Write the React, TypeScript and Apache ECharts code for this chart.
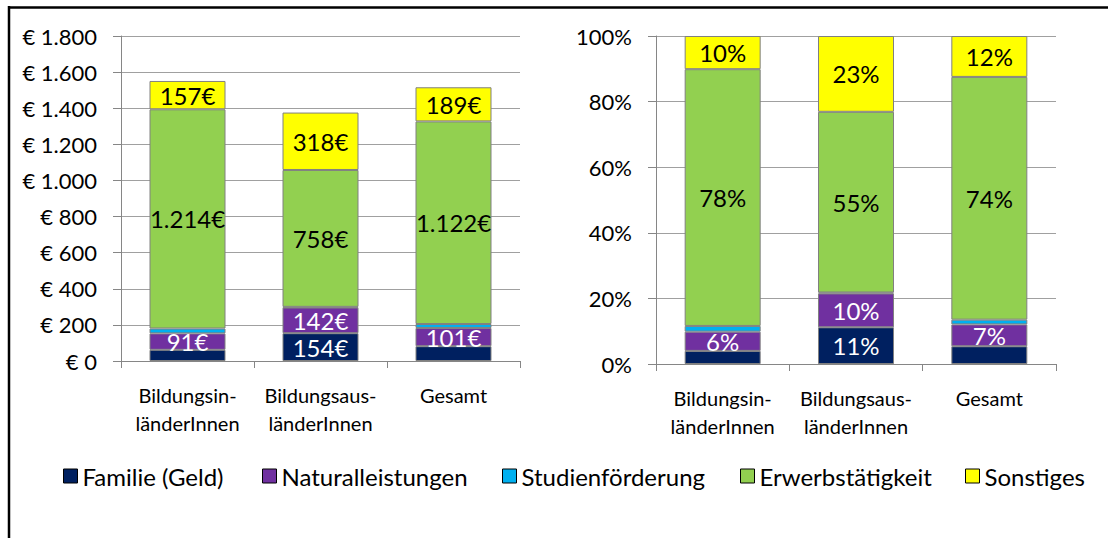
import React, { useEffect, useRef } from "react";
import * as echarts from "echarts";

const categories = ["Bildungsin-\nländerInnen", "Bildungsaus-\nländerInnen", "Gesamt"];
const seriesNames = ["Familie (Geld)", "Naturalleistungen", "Studienförderung", "Erwerbstätigkeit", "Sonstiges"];
const familie = [62, 154, 82];
const natural = [91, 142, 101];
const studien = [27, 4, 22];
const erwerb = [1214, 758, 1122];
const sonstiges = [157, 318, 189];
const colors = ["#002060", "#7030A0", "#00B0F0", "#92D050", "#FFFF00"];
const leftTicks = [0, 1800, 200];
const rightTicks = [0, 100, 20];

const FONT = "Lato";

function fmt(v: number): string {
  return String(Math.round(v)).replace(/\B(?=(\d{3})+(?!\d))/g, ".");
}

export default function App() {
  const ref = useRef<HTMLDivElement>(null);
  useEffect(() => {
    if (!ref.current) return;
    const chart = echarts.init(ref.current, undefined, { renderer: "svg" });
    const values = [familie, natural, studien, erwerb, sonstiges];
    const totals = categories.map((_, i) => values.reduce((s, arr) => s + arr[i], 0));
    const pcts = values.map((arr) => arr.map((v, i) => (v / totals[i]) * 100));
    const labelColors = ["#fff", "#fff", "#000", "#000", "#000"];
    const minShowAbs = [100, 0, 1e9, 0, 0];
    const minShowPct = [8, 0, 1e9, 0, 0];

    const series: any[] = [];
    values.forEach((arr, k) => {
      series.push({
        name: seriesNames[k],
        type: "bar",
        stack: "abs",
        xAxisIndex: 0,
        yAxisIndex: 0,
        barWidth: 76,
        data: arr,
        itemStyle: { color: colors[k], borderColor: "#808080", borderWidth: 1 },
        label: {
          show: true,
          position: "inside",
          color: labelColors[k],
          fontFamily: FONT,
          fontSize: 24,
          formatter: (p: any) => (p.value >= minShowAbs[k] ? fmt(p.value) + "€" : ""),
        },
      });
    });
    pcts.forEach((arr, k) => {
      series.push({
        name: seriesNames[k],
        type: "bar",
        stack: "pct",
        xAxisIndex: 1,
        yAxisIndex: 1,
        barWidth: 76,
        data: arr,
        itemStyle: { color: colors[k], borderColor: "#808080", borderWidth: 1 },
        label: {
          show: true,
          position: "inside",
          color: labelColors[k],
          fontFamily: FONT,
          fontSize: 24,
          formatter: (p: any) => (p.value >= minShowPct[k] ? Math.round(p.value) + "%" : ""),
        },
      });
    });

    const xAxisBase = (gridIndex: number) => ({
      type: "category",
      gridIndex,
      data: categories,
      axisLine: { lineStyle: { color: "#868686", width: 1 } },
      axisTick: { show: true, length: 7, alignWithLabel: false, lineStyle: { color: "#868686" } },
      axisLabel: { color: "#000", fontFamily: FONT, fontSize: 20, lineHeight: 28, margin: 20, interval: 0 },
      splitLine: { show: false },
    });
    const yAxisBase = (gridIndex: number, ticks: number[], formatter: (v: number) => string) => ({
      type: "value",
      gridIndex,
      min: ticks[0],
      max: ticks[1],
      interval: ticks[2],
      axisLine: { show: true, lineStyle: { color: "#868686", width: 1 } },
      axisTick: { show: true, length: 8, lineStyle: { color: "#868686" } },
      axisLabel: { color: "#000", fontFamily: FONT, fontSize: 22, margin: 24, formatter },
      splitLine: { show: true, lineStyle: { color: "#a0a0a0", width: 1 } },
    });

    const markerLefts = [58, 257, 497, 735, 960];
    const legends = seriesNames.map((n, k) => ({
      data: [n],
      left: markerLefts[k],
      top: 459,
      itemWidth: 14,
      itemHeight: 14,
      itemGap: 0,
      icon: "rect",
      selectedMode: false,
      itemStyle: { borderColor: "#000", borderWidth: 1 },
      textStyle: { color: "#000", fontFamily: FONT, fontSize: 24, padding: [0, 0, 0, 0] },
    }));

    chart.setOption({
      animation: false,
      backgroundColor: "#fff",
      legend: legends,
      grid: [
        { left: 121, right: 588, top: 36, bottom: 177, containLabel: false },
        { left: 656, right: 52, top: 36, bottom: 174, containLabel: false },
      ],
      xAxis: [xAxisBase(0), xAxisBase(1)],
      yAxis: [
        yAxisBase(0, leftTicks, (v: number) => "€ " + fmt(v)),
        yAxisBase(1, rightTicks, (v: number) => Math.round(v) + "%"),
      ],
      series,
      graphic: [
        { type: "line", shape: { x1: 9, y1: 7.5, x2: 1108, y2: 7.5 }, style: { stroke: "#000", lineWidth: 2.5 } },
        { type: "line", shape: { x1: 9, y1: 6, x2: 9, y2: 538 }, style: { stroke: "#000", lineWidth: 2.5 } },
      ],
    });
    return () => chart.dispose();
  }, []);
  return (
    <div
      ref={ref}
      style={{ position: "absolute", left: 0, top: 0, width: 1108, height: 538, background: "#fff" }}
    />
  );
}
